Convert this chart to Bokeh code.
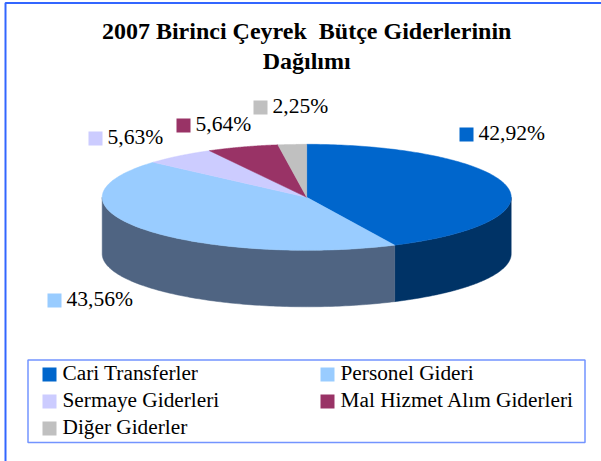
import numpy as np
from bokeh.embed import file_html
from bokeh.resources import INLINE
from bokeh.plotting import figure
from bokeh.models import Range1d
from bokeh.core.properties import value

title_lines = ["2007 Birinci Çeyrek\u00a0 Bütçe Giderlerinin", "Dağılımı"]
categories = ["Cari Transferler", "Personel Gideri", "Sermaye Giderleri",
              "Mal Hizmet Alım Giderleri", "Diğer Giderler"]
shares = [42.92, 43.56, 5.63, 5.64, 2.25]
share_labels = ["42,92%", "43,56%", "5,63%", "5,64%", "2,25%"]
top_colors = ["#0066CC", "#99CCFF", "#CCCCFF", "#993366", "#C0C0C0"]
wall_colors = ["#003366", "#4F6482", "#6B6B8F", "#4D1A33", "#606060"]

# layout (pixels in the page)
W, H = 601, 461
CX, CY, RX, RY, DEPTH = 306.2, 196.8, 204.5, 53.0, 56.5
label_pos = [(459, 141), (47, 307), (88, 145), (176, 132), (253, 114)]
legend_pos = [(42, 381), (320, 381), (42, 408), (320, 408), (42, 435)]
SW = 14
FONT = value("Liberation Serif")
BASE = 0.4  # the page's alphabetic text sits this many font sizes below its anchor

p = figure(width=W, height=H, output_backend="svg", toolbar_location=None,
           x_range=Range1d(0, W), y_range=Range1d(H, 0),
           min_border=0, outline_line_color=None)
p.axis.visible = False
p.grid.visible = False
p.background_fill_color = "white"
p.border_fill_color = "white"

# outer frame: only top and left edges are in the picture
p.line([5, 5, W], [H, 2.5, 2.5], line_color="#3366FF", line_width=2)

edges = np.cumsum([0] + shares) / sum(shares) * 2 * np.pi


def ex(t):
    return CX + RX * np.sin(t)


def ey(t):
    return CY - RY * np.cos(t)


# side wall, only the part facing the viewer
for a, b, c in zip(edges[:-1], edges[1:], wall_colors):
    lo, hi = max(a, np.pi / 2), min(b, 3 * np.pi / 2)
    if hi <= lo:
        continue
    t = np.linspace(lo, hi, 120)
    xs = np.r_[ex(t), ex(t)[::-1]]
    ys = np.r_[ey(t), (ey(t) + DEPTH)[::-1]]
    p.patch(xs, ys, fill_color=c, line_color=c, line_width=0.5)

# top face
for a, b, c in zip(edges[:-1], edges[1:], top_colors):
    t = np.linspace(a, b, 160)
    p.patch(np.r_[CX, ex(t)], np.r_[CY, ey(t)], fill_color=c, line_color=c, line_width=0.5)

# title
for line, y in zip(title_lines, [40, 70]):
    p.text([CX], [y - BASE * 24], text=[line], text_align="center", text_baseline="alphabetic",
           text_font=FONT, text_font_style="bold", text_font_size="24px", text_color="black")

# data labels
for (x, y), s, c in zip(label_pos, share_labels, top_colors):
    p.quad(left=[x], right=[x + SW], top=[y - SW], bottom=[y], fill_color=c, line_color=None)
    p.text([x + SW + 5], [y - BASE * 21.6], text=[s], text_baseline="alphabetic", text_font=FONT,
           text_font_size="21.6px", text_color="black")

# legend
p.quad(left=[27.5], right=[584.5], top=[359.5], bottom=[442], fill_color="white",
       line_color="#7394FF", line_width=1.5)
for (x, y), s, c in zip(legend_pos, categories, top_colors):
    p.quad(left=[x], right=[x + SW], top=[y - SW], bottom=[y], fill_color=c, line_color=None)
    p.text([x + 20], [y - BASE * 21.3], text=[s], text_baseline="alphabetic", text_font=FONT,
           text_font_size="21.3px", text_color="black")

open("out.html", "w").write(file_html(p, INLINE))
